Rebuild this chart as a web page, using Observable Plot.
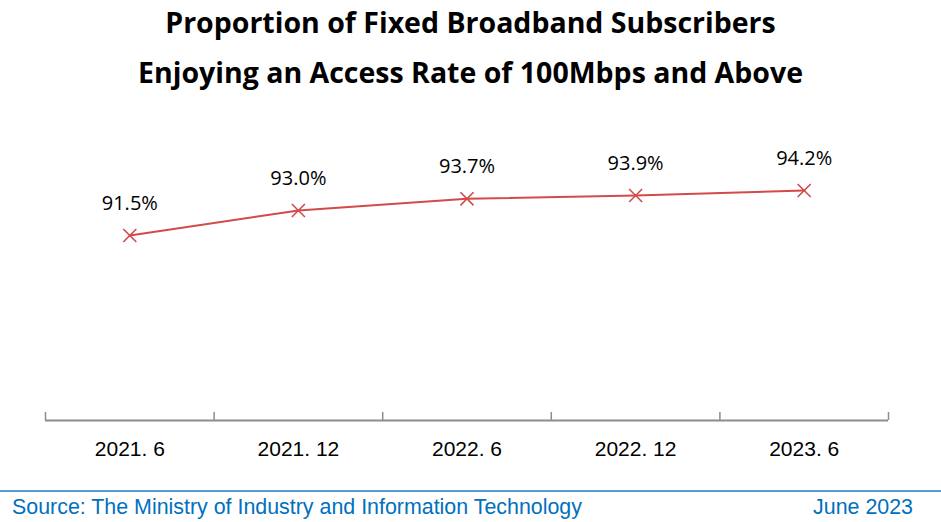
<!DOCTYPE html>
<html>
<head>
<meta charset="utf-8">
<script src="https://cdn.jsdelivr.net/npm/d3@7"></script>
<script src="https://cdn.jsdelivr.net/npm/@observablehq/plot@0.6"></script>
<style>
  html, body { margin: 0; padding: 0; background: #fff; width: 941px; height: 522px; overflow: hidden; }
  #title { text-align: center; font-family: "Open Sans", "Noto Sans", sans-serif; font-weight: 700; font-size: 28.5px; color: #000; line-height: 50px; height: 100px; margin-top: -3px; margin-bottom: 3px; letter-spacing: 0; }
  #chart { height: 380px; }
  #footer { position: absolute; top: 490px; left: 0; width: 941px; height: 32px; border-top: 2px solid #5b9bd5; font-family: "Liberation Sans", Arial, sans-serif; font-size: 21.4px; color: #0070c0; }
  #footer .src { position: absolute; left: 12px; top: 3px; }
  #footer .date { position: absolute; right: 28px; top: 3px; }
</style>
</head>
<body>
<div id="title">Proportion of Fixed Broadband Subscribers<br>Enjoying an Access Rate of 100Mbps and Above</div>
<div id="chart"></div>
<div id="footer"><span class="src">Source: The Ministry of Industry and Information Technology</span><span class="date">June 2023</span></div>
<script>
const categories = ["2021. 6", "2021. 12", "2022. 6", "2022. 12", "2023. 6"];
const values = [91.5, 93.0, 93.7, 93.9, 94.2];
const valueLabels = ["91.5%", "93.0%", "93.7%", "93.9%", "94.2%"];

const data = categories.map((c, i) => ({i, cat: c, value: values[i], label: valueLabels[i]}));
const boundaries = d3.range(categories.length + 1).map(k => k - 0.5);
const red = "#d24a4a";

const plot = Plot.plot({
  width: 941,
  height: 380,
  marginLeft: 45,
  marginRight: 53,
  marginTop: 60,
  marginBottom: 60,
  x: {domain: [-0.5, categories.length - 0.5], axis: null},
  y: {domain: [80.4, 96], axis: null},
  style: {background: "#fff"},
  marks: [
    Plot.ruleY([80.4], {stroke: "#8c8c8c", strokeWidth: 2}),
    Plot.ruleX(boundaries, {stroke: "#8c8c8c", strokeWidth: 1.5, insetTop: 252}),
    Plot.axisX({ticks: d3.range(categories.length), tickFormat: i => categories[i], tickSize: 0, tickPadding: 21, fontSize: 21, fontFamily: "'Liberation Sans', Arial, sans-serif", color: "#000", label: null}),
    Plot.line(data, {x: "i", y: "value", stroke: red, strokeWidth: 2}),
    Plot.dot(data, {x: "i", y: "value", symbol: "times", r: 6, stroke: red, strokeWidth: 1.6}),
    Plot.text(data, {x: "i", y: "value", text: "label", dy: -32, fontSize: 20, fontFamily: "'Open Sans', 'Noto Sans', sans-serif", fill: "#000"})
  ]
});
document.getElementById("chart").appendChild(plot);
</script>
</body>
</html>
